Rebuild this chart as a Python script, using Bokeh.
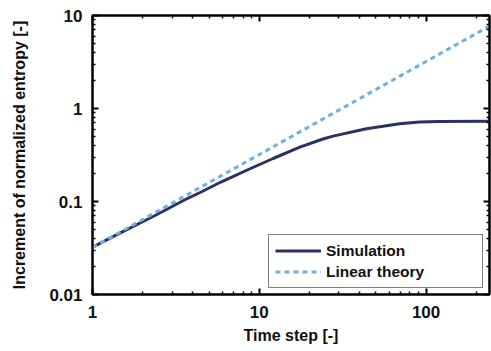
from bokeh.plotting import figure
from bokeh.models import (FixedTicker, CustomJSTickFormatter, LogAxis, Legend, LegendItem)
from bokeh.embed import file_html
from bokeh.resources import INLINE

# Data
sim_x = [1.0, 1.5, 2.37, 3.75, 4.42, 5.93, 8.8, 12.1, 17.5, 24.1, 27.7, 43.9, 69.3, 91.5, 120.0, 240.0]
sim_y = [0.0323, 0.0468, 0.0707, 0.109, 0.125, 0.163, 0.225, 0.29, 0.385, 0.47, 0.505, 0.606, 0.685, 0.715, 0.725, 0.73]
lin_x = [1.0, 240.0]
lin_y = [0.032, 7.68]

x_major = [1, 10, 100]
y_major = [0.01, 0.1, 1, 10]
x_minor = [m * d for d in (1, 10, 100) for m in range(2, 10) if m * d <= 240]
y_minor = [m * d for d in (0.01, 0.1, 1) for m in range(2, 10)]

FONT = "Liberation Sans"

p = figure(width=491, height=351, x_axis_type="log", y_axis_type="log",
           x_range=(1, 240), y_range=(0.01, 10),
           output_backend="svg", toolbar_location=None,
           min_border_left=92, min_border_right=2, min_border_top=15, min_border_bottom=57)
p.grid.visible = False
p.outline_line_color = "black"
p.outline_line_width = 2
p.background_fill_color = "white"
p.border_fill_color = "white"

fmt = CustomJSTickFormatter(code="return String(tick);")
blank = CustomJSTickFormatter(code="return '';")

def style_axis(ax, ticks, minors, labels=True):
    ax.ticker = FixedTicker(ticks=ticks, minor_ticks=minors)
    ax.axis_line_color = "black"
    ax.axis_line_width = 2
    ax.major_tick_in = 6
    ax.major_tick_out = 0
    ax.minor_tick_in = 3
    ax.minor_tick_out = 0
    ax.major_tick_line_width = 2
    ax.minor_tick_line_width = 1.5
    ax.major_tick_line_color = "black"
    ax.minor_tick_line_color = "black"
    if labels:
        ax.formatter = fmt
        ax.major_label_text_font = FONT
        ax.major_label_text_font_style = "bold"
        ax.major_label_text_font_size = "17px"
        ax.major_label_text_color = "#111111"
        ax.axis_label_text_font = FONT
        ax.axis_label_text_font_style = "bold"
        ax.axis_label_text_font_size = "16px"
        ax.axis_label_text_color = "#111111"
    else:
        ax.formatter = blank
        ax.major_label_text_color = None
        ax.major_label_standoff = 0

style_axis(p.xaxis[0], x_major, x_minor)
style_axis(p.yaxis[0], y_major, y_minor)
p.xaxis[0].axis_label = "Time step [-]"
p.yaxis[0].axis_label = "Increment of normalized entropy [-]"
p.xaxis[0].major_label_standoff = 11
p.yaxis[0].major_label_standoff = 10
p.xaxis[0].axis_label_standoff = 6
p.yaxis[0].axis_label_standoff = 18

top_ax = LogAxis()
style_axis(top_ax, x_major, x_minor, labels=False)
p.add_layout(top_ax, "above")
right_ax = LogAxis()
style_axis(right_ax, y_major, y_minor, labels=False)
p.add_layout(right_ax, "right")

r_sim = p.line(sim_x, sim_y, line_color="#2a3163", line_width=3)
r_lin = p.line(lin_x, lin_y, line_color="#6fb0dc", line_width=3, line_dash="5 4")

legend = Legend(items=[LegendItem(label="Simulation", renderers=[r_sim]),
                       LegendItem(label="Linear theory", renderers=[r_lin])],
                location="bottom_right")
legend.margin = 6
legend.padding = 6
legend.spacing = 2
legend.label_text_font = FONT
legend.label_text_font_style = "bold"
legend.label_text_font_size = "15.5px"
legend.label_text_color = "#111111"
legend.label_width = 150
legend.label_height = 19
legend.glyph_width = 46
legend.glyph_height = 19
legend.border_line_color = "black"
legend.border_line_width = 1.5
legend.background_fill_alpha = 1
p.add_layout(legend, "center")

open("out.html", "w").write(file_html(p, INLINE))
